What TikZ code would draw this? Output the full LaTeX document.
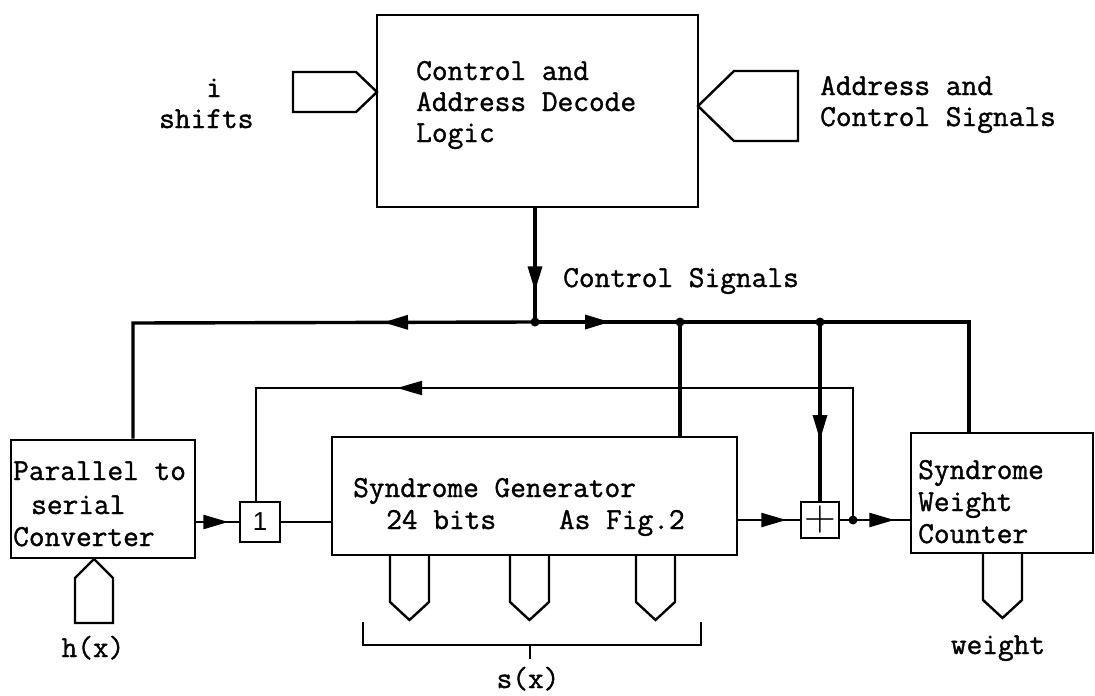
\documentclass[tikz,border=0pt]{standalone}
\usepackage{fontspec}
\newfontfamily\onefont{Liberation Sans}
\newfontfamily\twfont{Latin Modern Mono}[FakeBold=1.2]
\usetikzlibrary{arrows.meta,decorations.markings,calc}
\begin{document}
\begin{tikzpicture}[x=1pt,y=-1pt,
  box/.style={draw, line width=2.6pt, inner sep=0pt},
  port/.style={line width=2.4pt, line join=miter},
  bus/.style={line width=3.4pt},
  sig/.style={line width=2.4pt},
  fbline/.style={line width=2pt},
  txt/.style={font=\twfont\fontsize{30.5}{36}\selectfont, inner sep=0pt, anchor=base west},
  arrowat/.style={postaction={decorate}, decoration={markings, mark=at position #1 with {\arrow{Triangle[length=25pt,width=14pt]}}}},
  dot/.style={circle, fill, inner sep=0pt, minimum size=9pt},
  portdown/.pic={\draw[port] (-19.5,0) -- (-19.5,47) -- (0,65) -- (19.5,47) -- (19.5,0);},
  portup/.pic={\draw[port] (0,0) -- (-19,19) -- (-19,64) -- (19,64) -- (19,19) -- cycle;},
  portright/.pic={\draw[port] (0,0) -- (-21,-20) -- (-84,-20) -- (-84,20) -- (-21,20) -- cycle;},
  portleft/.pic={\draw[port] (0,0) -- (36,-35) -- (100,-35) -- (100,35) -- (36,35) -- cycle;},
]
\useasboundingbox (0,0) rectangle (1095,696);

% junctions
\coordinate (J0) at (535,322);
\coordinate (J1) at (680,322);
\coordinate (J2) at (820,322);
\coordinate (BR) at (969,322);
\coordinate (BL) at (133,323);
\coordinate (J3) at (853,520);
\coordinate (FB1) at (853,388);
\coordinate (FB2) at (256,388);

% boxes
\node[box, minimum width=321pt, minimum height=192pt] (cadl) at (537.5,111) {};
\node[box, minimum width=184pt, minimum height=118pt] (par) at (103,499) {};
\node[box, minimum width=40pt, minimum height=40pt] (one) at (260,522) {\onefont\fontsize{26}{26}\selectfont 1};
\node[box, minimum width=405pt, minimum height=118pt] (syn) at (534.5,496) {};
\node[box, minimum width=38pt, minimum height=36pt] (plus) at (820,520) {\rmfamily\fontsize{44}{44}\selectfont +};
\node[box, minimum width=182pt, minimum height=120pt] (cnt) at (1002,493) {};

% texts
\node[txt] (c1) at (416,80) {Control and};
\node[txt] (c2) at (416,111) {Address Decode};
\node[txt] (c3) at (416,142) {Logic};
\node[txt, anchor=base] (i1) at (214,97) {i};
\node[txt] (i2) at (159,128) {shifts};
\node[txt] (a1) at (820,95) {Address and};
\node[txt] (a2) at (820,126) {Control Signals};
\node[txt] (cs) at (563,287) {Control Signals};
\node[txt] (p1) at (13,480) {Parallel to};
\node[txt] (p2) at (31,514) {serial};
\node[txt] (p3) at (13,546) {Converter};
\node[txt] (s1) at (353,497) {Syndrome Generator};
\node[txt] (s2) at (386,529) {24 bits~~~~As Fig.2};
\node[txt] (w1) at (918,479) {Syndrome};
\node[txt] (w2) at (918,511) {Weight};
\node[txt] (w3) at (918,543) {Counter};
\node[txt, anchor=base] (hx) at (93,657) {h(x)};
\node[txt, anchor=base] (sx) at (528,688) {s(x)};
\node[txt, anchor=base] (wt) at (998,654) {weight};

% ports
\pic at (377,92) {portright};
\pic at (698,106) {portleft};
\pic at (409.5,555) {portdown};
\pic at (529.5,555) {portdown};
\pic at (655.5,555) {portdown};
\pic at (1002.5,553) {portdown};
\pic at (94,559) {portup};

% bracket
\draw[sig] (363,622) -- (363,645) -- (701,645) -- (701,622);
\draw[sig] (530,645) -- (530,659);

% control lines
\draw[bus, arrowat=83pt] (J0 |- cadl.south) -- (J0);
\draw[bus, arrowat=152pt] (J0) -- (BL) -- (BL |- par.north);
\draw[bus, arrowat=75pt] (J0) -- (BR) -- (BR |- cnt.north);
\draw[bus] (J1) -- (J1 |- syn.north);
\draw[bus, arrowat=118pt] (J2) -- (plus.north);

% feedback
\draw[fbline, arrowat=588pt] (J3) -- (FB1) -- (FB2) -- (FB2 |- one.north);

% signal path
\draw[sig, arrowat=32pt] (par.east |- one.west) -- (one.west);
\draw[sig] (one.east) -- (syn.west |- one.east);
\draw[sig, arrowat=48pt] (syn.east |- plus.west) -- (plus.west);
\draw[sig, arrowat=54pt] (plus.east) -- (cnt.west |- plus.east);

% dots
\node[dot] (d0) at (J0) {};
\node[dot] (d1) at (J1) {};
\node[dot] (d2) at (J2) {};
\node[dot] (d3) at (J3) {};
\end{tikzpicture}
\end{document}
